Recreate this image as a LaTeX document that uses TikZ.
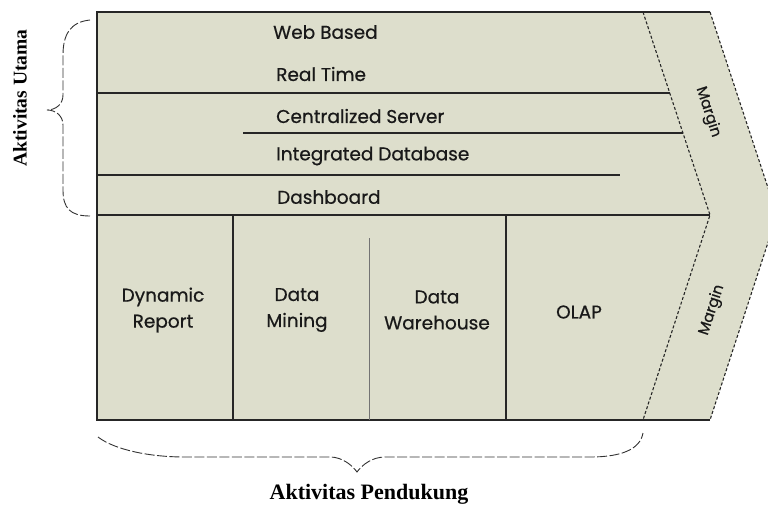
\documentclass[tikz,border=0pt]{standalone}
\usepackage{fontspec}
\setmainfont{Liberation Serif}
\newfontfamily\roundf[FakeBold=0.6]{Poppins}
\definecolor{fillc}{RGB}{221,222,204}
\begin{document}
\begin{tikzpicture}[x=1pt,y=-1pt,
  lbl/.style={font=\roundf\fontsize{18.5}{26}\selectfont, inner sep=0pt, text=black!90},
  solidl/.style={line width=1.4pt, draw=black!85},
  thinl/.style={line width=0.6pt, draw=black!55},
  dashl/.style={line width=1.1pt, dash pattern=on 3pt off 2pt, draw=black!85},
  bracel/.style={line width=0.9pt, dash pattern=on 10pt off 2.5pt, draw=black!80},
  caption/.style={font=\bfseries, inner sep=0pt}]
\useasboundingbox (0,0) rectangle (768,507);
% corners
\coordinate (TL) at (97,12);
\coordinate (TR) at (710,12);
\coordinate (IT) at (643,12);
\coordinate (IM) at (710,215);
\coordinate (IB) at (643,420);
\coordinate (TIP) at (777,215);
\coordinate (BR) at (710,420);
\coordinate (BL) at (97,420);
\fill[fillc] (TL) -- (TR) -- (TIP) -- (BR) -- (BL) -- cycle;
% solid frame lines
\draw[solidl] (TR) -- (TL) -- (BL) -- (BR);
\draw[solidl] (97,93) -- (670,93);
\draw[solidl] (243,133) -- (683,133);
\draw[solidl] (97,175) -- (620,175);
\draw[solidl] (97,215) -- (IM);
\draw[solidl] (233,215) -- (233,420);
\draw[thinl] (369,238) -- (369,420);
\draw[solidl] (506,215) -- (506,420);
% chevron dashed lines
\draw[dashl] (IT) -- (IM) -- (IB);
\draw[dashl] (TR) -- (TIP) -- (BR);
% labels top
\node[lbl, anchor=west] (web) at (273,32) {Web Based};
\node[lbl, anchor=west] (rt) at (276,74) {Real Time};
\node[lbl, anchor=west] (cs) at (276,116) {Centralized Server};
\node[lbl, anchor=west] (idb) at (276,156) {Integrated Database};
\node[lbl, anchor=west] (dash) at (277,197) {Dashboard};
% labels bottom
\node[lbl, align=center] (dr) at (163,310) {Dynamic\\Report};
\node[lbl, align=center] (dm) at (297,310) {Data\\Mining};
\node[lbl, align=center] (dw) at (437,310) {Data\\Warehouse};
\node[lbl] (olap) at (579,312) {OLAP};
\node[lbl, rotate=-72, font=\roundf\fontsize{15}{17}\selectfont] (m1) at (708,112) {Margin};
\node[lbl, rotate=72, font=\roundf\fontsize{15}{17}\selectfont] (m2) at (712,310) {Margin};
% braces
\draw[bracel] (90,20) .. controls (70,22) and (63,35) .. (63,55) -- (63,95)
  .. controls (63,104) and (56,110) .. (47,110)
  .. controls (56,110) and (63,116) .. (63,125) -- (63,190)
  .. controls (63,208) and (70,216) .. (90,216);
\draw[bracel] (98,437) .. controls (115,450) and (150,457) .. (185,457) -- (330,457)
  .. controls (342,457) and (352,465) .. (357,472)
  .. controls (362,465) and (372,457) .. (385,457) -- (590,457)
  .. controls (620,457) and (640,450) .. (643,433);
\node[caption, rotate=90, font=\bfseries\fontsize{19.5}{21}\selectfont] (au) at (20,98) {Aktivitas Utama};
\node[caption, font=\bfseries\fontsize{22}{24}\selectfont] (ap) at (369,494) {Aktivitas Pendukung};
\end{tikzpicture}
\end{document}
